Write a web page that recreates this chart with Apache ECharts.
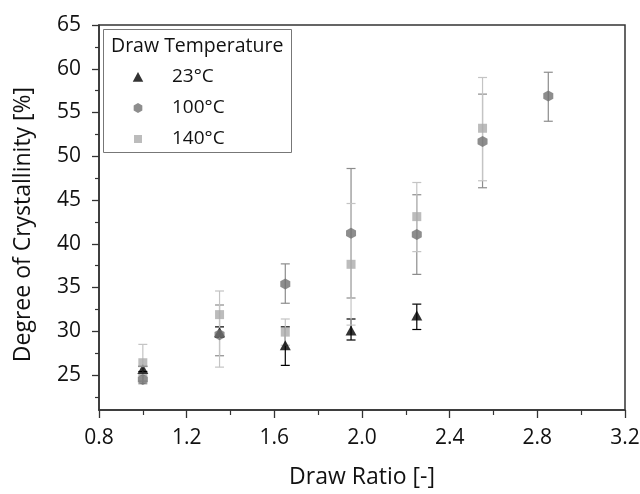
<!DOCTYPE html>
<html>
<head>
<meta charset="utf-8">
<script src="https://cdn.jsdelivr.net/npm/echarts@6/dist/echarts.min.js"></script>
<style>html,body{margin:0;padding:0;background:#fff}#c{width:640px;height:494px}</style>
</head>
<body>
<div id="c"></div>
<script>
// ---- data ----
var seriesNames = ['23°C', '100°C', '140°C'];
var xTickLabels = [0.8, 1.2, 1.6, 2.0, 2.4, 2.8, 3.2];
var yTickLabels = [25, 30, 35, 40, 45, 50, 55, 60, 65];
var yMinorTicks = [22.5, 27.5, 32.5, 37.5, 42.5, 47.5, 52.5, 57.5, 62.5];

var ratio23 = [1.0, 1.35, 1.65, 1.95, 2.25];
var cryst23 = [25.7, 29.9, 28.4, 30.1, 31.8];
var low23   = [25.4, 29.3, 26.1, 29.0, 30.2];
var high23  = [26.0, 30.5, 30.5, 31.4, 33.1];

var ratio100 = [1.0, 1.35, 1.65, 1.95, 2.25, 2.55, 2.85];
var cryst100 = [24.5, 29.6, 35.4, 41.2, 41.05, 51.7, 56.9];
var low100   = [24.0, 27.2, 33.2, 33.8, 36.5, 46.4, 54.0];
var high100  = [25.0, 33.0, 37.7, 48.6, 45.6, 57.1, 59.6];

var ratio140 = [1.0, 1.35, 1.65, 1.95, 2.25, 2.55];
var cryst140 = [26.4, 31.9, 29.9, 37.65, 43.1, 53.2];
var low140   = [24.3, 25.9, 28.4, 30.7, 39.1, 47.2];
var high140  = [28.5, 34.6, 31.4, 44.6, 47.0, 59.0];

// ---- build ----
var FONT = 'Open Sans';
var hexPath = 'path://M0,-1 L0.866,-0.5 L0.866,0.5 L0,1 L-0.866,0.5 L-0.866,-0.5 Z';
// legend icons: invisible move-to points widen the box so the visible shape sits centred
var pad = ' M-5.8,-1 M5.8,1';
var legTri = 'path://M0,-1 L1.05,0.95 L-1.05,0.95 Z' + pad;
var legHex = 'path://M0,-1 L0.866,-0.5 L0.866,0.5 L0,1 L-0.866,0.5 L-0.866,-0.5 Z' + pad;
var legSq = 'path://M-0.8,-0.8 L0.8,-0.8 L0.8,0.8 L-0.8,0.8 Z' + pad;
var colors = ['#000000', '#707070', '#ababab'];
var barColors = ['#000000', '#8c8c8c', '#c4c4c4'];

function pts(xs, ys) { return xs.map(function (x, i) { return [x, ys[i]]; }); }
function errs(xs, lo, hi) { return xs.map(function (x, i) { return [x, lo[i], hi[i]]; }); }

function errSeries(data, color) {
  return {
    type: 'custom', z: 1, silent: true,
    renderItem: function (params, api) {
      var x = api.value(0);
      var a = api.coord([x, api.value(1)]);
      var b = api.coord([x, api.value(2)]);
      var w = 4.5;
      var st = { stroke: color, lineWidth: 1.2 };
      return {
        type: 'group',
        children: [
          { type: 'line', shape: { x1: a[0], y1: a[1], x2: b[0], y2: b[1] }, style: st },
          { type: 'line', shape: { x1: a[0] - w, y1: a[1], x2: a[0] + w, y2: a[1] }, style: st },
          { type: 'line', shape: { x1: b[0] - w, y1: b[1], x2: b[0] + w, y2: b[1] }, style: st }
        ]
      };
    },
    data: data
  };
}

var chart = echarts.init(document.getElementById('c'), null, { renderer: 'canvas' });
chart.setOption({
  animation: false,
  textStyle: { fontFamily: FONT },
  grid: { left: 99, right: 15, top: 25, bottom: 84, show: true, borderColor: '#333', borderWidth: 1.5,
          backgroundColor: 'transparent', outerBoundsMode: 'none', containLabel: false },
  legend: {
    orient: 'vertical', left: 109, top: 67, z: 10, padding: 0,
    itemWidth: 58, itemHeight: 10, itemGap: 11, symbolKeepAspect: true,
    textStyle: { fontFamily: FONT, fontSize: 19, color: '#111', lineHeight: 20 },
    data: [
      { name: seriesNames[0], icon: legTri },
      { name: seriesNames[1], icon: legHex },
      { name: seriesNames[2], icon: legSq, itemStyle: { color: colors[2] } }
    ]
  },
  graphic: [
    { type: 'rect', left: 103, top: 29, z: 0, shape: { width: 188, height: 123 }, style: { fill: '#fff', stroke: '#777', lineWidth: 1 } },
    { type: 'text', left: 111, top: 36, z: 10, style: { text: 'Draw Temperature', fontFamily: FONT, fontSize: 19.5, fill: '#111' } }
  ],
  xAxis: {
    type: 'value', min: 0.8, max: 3.2, interval: 0.4,
    name: 'Draw Ratio [-]', nameLocation: 'middle', nameGap: 56,
    nameTextStyle: { fontFamily: FONT, fontSize: 23, color: '#111' },
    axisLine: { lineStyle: { color: '#333', width: 1.5 } },
    axisTick: { show: true, length: 8, lineStyle: { color: '#333', width: 1.3 } },
    minorTick: { show: true, splitNumber: 2, length: 5, lineStyle: { color: '#333', width: 1.2 } },
    splitLine: { show: false },
    axisLabel: { fontFamily: FONT, fontSize: 21, color: '#111', margin: 18,
      customValues: xTickLabels,
      formatter: function (v) { return v.toFixed(1); } }
  },
  yAxis: [{
    type: 'value', min: 21, max: 65,
    name: 'Degree of Crystallinity [%]', nameLocation: 'middle', nameGap: 64,
    nameTextStyle: { fontFamily: FONT, fontSize: 23, color: '#111', padding: [0, 14, 0, 0] },
    axisLine: { lineStyle: { color: '#333', width: 1.5 } },
    axisTick: { show: true, length: 7, customValues: yTickLabels, lineStyle: { color: '#333', width: 1.3 } },
    splitLine: { show: false },
    axisLabel: { fontFamily: FONT, fontSize: 21, color: '#111', margin: 18, customValues: yTickLabels }
  }, {
    type: 'value', min: 21, max: 65, position: 'left', offset: 0,
    axisLine: { show: false },
    axisTick: { show: true, length: 4, customValues: yMinorTicks, lineStyle: { color: '#333', width: 1.2 } },
    axisLabel: { show: false },
    splitLine: { show: false }
  }],
  series: [
    errSeries(errs(ratio23, low23, high23), barColors[0]),
    errSeries(errs(ratio100, low100, high100), barColors[1]),
    errSeries(errs(ratio140, low140, high140), barColors[2]),
    { name: seriesNames[0], type: 'scatter', z: 3, symbol: 'triangle', symbolSize: [11, 10],
      itemStyle: { color: colors[0] }, data: pts(ratio23, cryst23) },
    { name: seriesNames[1], type: 'scatter', z: 3, symbol: hexPath, symbolSize: [10, 11],
      itemStyle: { color: colors[1] }, data: pts(ratio100, cryst100) },
    { name: seriesNames[2], type: 'scatter', z: 3, symbol: 'rect', symbolSize: 9,
      itemStyle: { color: colors[2] }, data: pts(ratio140, cryst140) }
  ]
});
</script>
</body>
</html>
